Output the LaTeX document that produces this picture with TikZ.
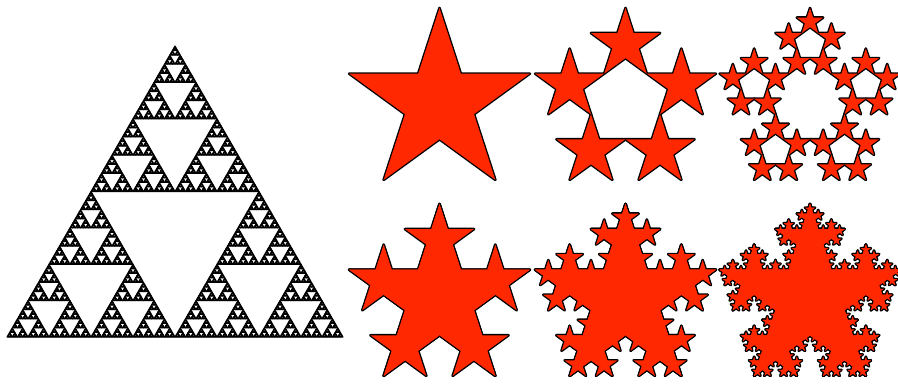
\documentclass[tikz,border=0pt]{standalone}
\definecolor{starred}{RGB}{255,40,0}

% one five-pointed star: centre (#1,#2), outer radius #3, style #4
\newcommand\onestar[4]{%
  \path[#4] ([shift={(#1,#2)}]90:#3)
    \foreach \a/\f in {126/0.381966,162/1,198/0.381966,234/1,270/0.381966,306/1,342/0.381966,18/1,54/0.381966}{
      -- ([shift={(#1,#2)}]\a:{\f*#3})} -- cycle;}

% five smaller stars round a pentagon, #4 times over
\newcommand\starflake[5]{%
  \ifnum#4=0
    \onestar{#1}{#2}{#3}{#5}%
  \else
    \foreach \k in {0,...,4}{%
      \pgfmathsetmacro\sx{#1+0.618034*#3*cos(90+72*\k)}%
      \pgfmathsetmacro\sy{#2+0.618034*#3*sin(90+72*\k)}%
      \pgfmathsetmacro\sr{0.381966*#3}%
      \pgfmathtruncatemacro\sl{#4-1}%
      \edef\nextstar{\noexpand\starflake{\sx}{\sy}{\sr}{\sl}{#5}}\nextstar}%
  \fi}

% sierpinski triangle: lower left corner (#1,#2), side #3, depth #4
\newcommand\sierp[4]{%
  \ifnum#4=0
    \path[sierfill] (#1,#2) -- ++(#3,0) -- ++(120:#3) -- cycle;
  \else
    \begingroup
    \pgfmathsetmacro\hs{#3/2}\pgfmathtruncatemacro\hl{#4-1}%
    \pgfmathsetmacro\mx{#1+\hs}\pgfmathsetmacro\tx{#1+\hs/2}\pgfmathsetmacro\ty{#2+\hs*0.866025}%
    \edef\nextsier{\noexpand\sierp{#1}{#2}{\hs}{\hl}\noexpand\sierp{\mx}{#2}{\hs}{\hl}\noexpand\sierp{\tx}{\ty}{\hs}{\hl}}%
    \nextsier
    \endgroup
  \fi}

\begin{document}
\begin{tikzpicture}[x=0.03cm, y=0.03cm,
  sierfill/.style={fill=black, draw=black, line width=0.9pt, line join=round},
  starline/.style={draw=black, line width=2.3pt, line join=round},
  starfill/.style={fill=starred}]
  \useasboundingbox (0,0) rectangle (898,385);
  \sierp{7}{48}{336}{7}
  % top row: the star and two steps of the pentagon flake
  \foreach \st in {starline,starfill}{
    \starflake{439.5}{282}{95}{0}{\st}
    \starflake{625.5}{282}{95}{1}{\st}
    \starflake{810}{282}{95}{2}{\st}}
  % bottom row: the star with every step up to 1, 2, 3 laid on it
  \foreach \st in {starline,starfill}{
    \foreach \n in {0,1}{\starflake{439.5}{86}{95}{\n}{\st}}
    \foreach \n in {0,1,2}{\starflake{625.5}{86}{95}{\n}{\st}}
    \foreach \n in {0,1,2,3}{\starflake{810}{86}{95}{\n}{\st}}}
\end{tikzpicture}
\end{document}
